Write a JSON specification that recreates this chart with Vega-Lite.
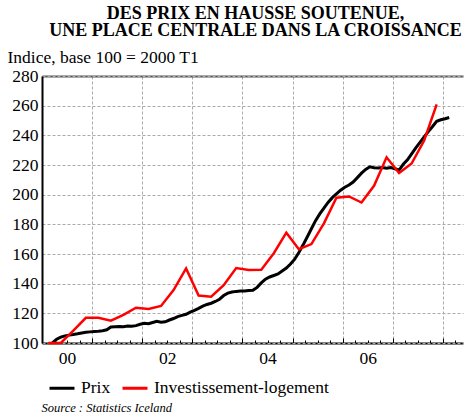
{
  "$schema": "https://vega.github.io/schema/vega-lite/v6.json",
  "autosize": "none",
  "width": 421,
  "height": 267,
  "padding": {"left": 42, "top": 76, "right": 1, "bottom": 71},
  "config": {
    "view": {"stroke": null},
    "font": "Liberation Serif"
  },
  "title": {
    "text": ["DES PRIX EN HAUSSE SOUTENUE,\u00a0\u00a0\u00a0\u00a0", "UNE PLACE CENTRALE DANS LA CROISSANCE"],
    "font": "Liberation Serif",
    "fontSize": 18,
    "fontWeight": "bold",
    "color": "#000000",
    "anchor": "middle",
    "frame": "group",
    "lineHeight": 17,
    "dx": 3,
    "offset": 8
  },
  "datasets": {
    "prix": [
      {"t": 2000.208, "v": 100, "s": "Prix"},
      {"t": 2000.292, "v": 102.5, "s": "Prix"},
      {"t": 2000.375, "v": 104, "s": "Prix"},
      {"t": 2000.458, "v": 104.8, "s": "Prix"},
      {"t": 2000.542, "v": 105.3, "s": "Prix"},
      {"t": 2000.625, "v": 105.7, "s": "Prix"},
      {"t": 2000.708, "v": 106.2, "s": "Prix"},
      {"t": 2000.792, "v": 106.8, "s": "Prix"},
      {"t": 2000.875, "v": 107.2, "s": "Prix"},
      {"t": 2000.958, "v": 107.5, "s": "Prix"},
      {"t": 2001.042, "v": 107.8, "s": "Prix"},
      {"t": 2001.125, "v": 108, "s": "Prix"},
      {"t": 2001.208, "v": 108.3, "s": "Prix"},
      {"t": 2001.292, "v": 108.9, "s": "Prix"},
      {"t": 2001.375, "v": 110.8, "s": "Prix"},
      {"t": 2001.458, "v": 111, "s": "Prix"},
      {"t": 2001.542, "v": 111.2, "s": "Prix"},
      {"t": 2001.625, "v": 111, "s": "Prix"},
      {"t": 2001.708, "v": 111.4, "s": "Prix"},
      {"t": 2001.792, "v": 111.3, "s": "Prix"},
      {"t": 2001.875, "v": 111.7, "s": "Prix"},
      {"t": 2001.958, "v": 112.6, "s": "Prix"},
      {"t": 2002.042, "v": 113.3, "s": "Prix"},
      {"t": 2002.125, "v": 113, "s": "Prix"},
      {"t": 2002.208, "v": 113.8, "s": "Prix"},
      {"t": 2002.292, "v": 114.6, "s": "Prix"},
      {"t": 2002.375, "v": 114, "s": "Prix"},
      {"t": 2002.458, "v": 114.3, "s": "Prix"},
      {"t": 2002.542, "v": 115.5, "s": "Prix"},
      {"t": 2002.625, "v": 116.5, "s": "Prix"},
      {"t": 2002.708, "v": 117.8, "s": "Prix"},
      {"t": 2002.792, "v": 118.6, "s": "Prix"},
      {"t": 2002.875, "v": 119.4, "s": "Prix"},
      {"t": 2002.958, "v": 120.8, "s": "Prix"},
      {"t": 2003.042, "v": 122, "s": "Prix"},
      {"t": 2003.125, "v": 123.3, "s": "Prix"},
      {"t": 2003.208, "v": 124.8, "s": "Prix"},
      {"t": 2003.292, "v": 126, "s": "Prix"},
      {"t": 2003.375, "v": 126.8, "s": "Prix"},
      {"t": 2003.458, "v": 128, "s": "Prix"},
      {"t": 2003.542, "v": 129.5, "s": "Prix"},
      {"t": 2003.625, "v": 132, "s": "Prix"},
      {"t": 2003.708, "v": 133.6, "s": "Prix"},
      {"t": 2003.792, "v": 134.4, "s": "Prix"},
      {"t": 2003.875, "v": 134.8, "s": "Prix"},
      {"t": 2003.958, "v": 135, "s": "Prix"},
      {"t": 2004.042, "v": 135, "s": "Prix"},
      {"t": 2004.125, "v": 135.4, "s": "Prix"},
      {"t": 2004.208, "v": 135.5, "s": "Prix"},
      {"t": 2004.292, "v": 137.5, "s": "Prix"},
      {"t": 2004.375, "v": 140.5, "s": "Prix"},
      {"t": 2004.458, "v": 143, "s": "Prix"},
      {"t": 2004.542, "v": 144.5, "s": "Prix"},
      {"t": 2004.625, "v": 145.5, "s": "Prix"},
      {"t": 2004.708, "v": 146.5, "s": "Prix"},
      {"t": 2004.792, "v": 148.5, "s": "Prix"},
      {"t": 2004.875, "v": 150.5, "s": "Prix"},
      {"t": 2004.958, "v": 153.3, "s": "Prix"},
      {"t": 2005.042, "v": 156.5, "s": "Prix"},
      {"t": 2005.125, "v": 161, "s": "Prix"},
      {"t": 2005.208, "v": 166, "s": "Prix"},
      {"t": 2005.292, "v": 171.5, "s": "Prix"},
      {"t": 2005.375, "v": 177, "s": "Prix"},
      {"t": 2005.458, "v": 182.5, "s": "Prix"},
      {"t": 2005.542, "v": 187, "s": "Prix"},
      {"t": 2005.625, "v": 191, "s": "Prix"},
      {"t": 2005.708, "v": 194.8, "s": "Prix"},
      {"t": 2005.792, "v": 198, "s": "Prix"},
      {"t": 2005.875, "v": 200.5, "s": "Prix"},
      {"t": 2005.958, "v": 203, "s": "Prix"},
      {"t": 2006.042, "v": 205, "s": "Prix"},
      {"t": 2006.125, "v": 206.5, "s": "Prix"},
      {"t": 2006.208, "v": 208.5, "s": "Prix"},
      {"t": 2006.292, "v": 211.5, "s": "Prix"},
      {"t": 2006.375, "v": 214.5, "s": "Prix"},
      {"t": 2006.458, "v": 217, "s": "Prix"},
      {"t": 2006.542, "v": 218.8, "s": "Prix"},
      {"t": 2006.625, "v": 218.2, "s": "Prix"},
      {"t": 2006.708, "v": 218, "s": "Prix"},
      {"t": 2006.792, "v": 218.3, "s": "Prix"},
      {"t": 2006.875, "v": 217.8, "s": "Prix"},
      {"t": 2006.958, "v": 218.3, "s": "Prix"},
      {"t": 2007.042, "v": 217.5, "s": "Prix"},
      {"t": 2007.125, "v": 216.6, "s": "Prix"},
      {"t": 2007.208, "v": 220.5, "s": "Prix"},
      {"t": 2007.292, "v": 223.5, "s": "Prix"},
      {"t": 2007.375, "v": 227.5, "s": "Prix"},
      {"t": 2007.458, "v": 231.5, "s": "Prix"},
      {"t": 2007.542, "v": 235.3, "s": "Prix"},
      {"t": 2007.625, "v": 239, "s": "Prix"},
      {"t": 2007.708, "v": 242.5, "s": "Prix"},
      {"t": 2007.792, "v": 246, "s": "Prix"},
      {"t": 2007.875, "v": 249.5, "s": "Prix"},
      {"t": 2007.958, "v": 250.5, "s": "Prix"},
      {"t": 2008.042, "v": 251.2, "s": "Prix"},
      {"t": 2008.125, "v": 252, "s": "Prix"}
    ],
    "invest": [
      {"t": 2000.125, "v": 100, "s": "Investissement-logement"},
      {"t": 2000.375, "v": 100, "s": "Investissement-logement"},
      {"t": 2000.625, "v": 108.3, "s": "Investissement-logement"},
      {"t": 2000.875, "v": 117, "s": "Investissement-logement"},
      {"t": 2001.125, "v": 117, "s": "Investissement-logement"},
      {"t": 2001.375, "v": 115, "s": "Investissement-logement"},
      {"t": 2001.625, "v": 119, "s": "Investissement-logement"},
      {"t": 2001.875, "v": 123.8, "s": "Investissement-logement"},
      {"t": 2002.125, "v": 123, "s": "Investissement-logement"},
      {"t": 2002.375, "v": 125, "s": "Investissement-logement"},
      {"t": 2002.625, "v": 135.7, "s": "Investissement-logement"},
      {"t": 2002.875, "v": 150.3, "s": "Investissement-logement"},
      {"t": 2003.125, "v": 132, "s": "Investissement-logement"},
      {"t": 2003.375, "v": 131.2, "s": "Investissement-logement"},
      {"t": 2003.625, "v": 139, "s": "Investissement-logement"},
      {"t": 2003.875, "v": 150.5, "s": "Investissement-logement"},
      {"t": 2004.125, "v": 149.2, "s": "Investissement-logement"},
      {"t": 2004.375, "v": 149.4, "s": "Investissement-logement"},
      {"t": 2004.625, "v": 160.5, "s": "Investissement-logement"},
      {"t": 2004.875, "v": 174.4, "s": "Investissement-logement"},
      {"t": 2005.125, "v": 163.2, "s": "Investissement-logement"},
      {"t": 2005.375, "v": 166.7, "s": "Investissement-logement"},
      {"t": 2005.625, "v": 180.7, "s": "Investissement-logement"},
      {"t": 2005.875, "v": 198, "s": "Investissement-logement"},
      {"t": 2006.125, "v": 198.8, "s": "Investissement-logement"},
      {"t": 2006.375, "v": 194.7, "s": "Investissement-logement"},
      {"t": 2006.625, "v": 206, "s": "Investissement-logement"},
      {"t": 2006.875, "v": 225.2, "s": "Investissement-logement"},
      {"t": 2007.125, "v": 214.6, "s": "Investissement-logement"},
      {"t": 2007.375, "v": 221, "s": "Investissement-logement"},
      {"t": 2007.625, "v": 236.5, "s": "Investissement-logement"},
      {"t": 2007.875, "v": 260.9, "s": "Investissement-logement"}
    ]
  },
  "encoding": {
    "y": {
      "field": "v",
      "type": "quantitative",
      "title": "Indice, base 100 = 2000 T1",
      "scale": {"domain": [100, 280], "nice": false, "zero": false},
      "axis": {
        "values": [100, 120, 140, 160, 180, 200, 220, 240, 260, 280],
        "labelOverlap": false,
        "labelFont": "Liberation Serif",
        "labelFontSize": 17.5,
        "labelColor": "#000000",
        "labelPadding": 425,
        "tickSize": -421,
        "tickColor": "#aaaaaa",
        "tickDash": [3, 2],
        "tickWidth": 1,
        "domainColor": "#000000",
        "domainWidth": 2,
        "grid": false,
        "titleFont": "Liberation Serif",
        "titleFontSize": 17.5,
        "titleFontWeight": "normal",
        "titleColor": "#000000",
        "titleAngle": 0,
        "titleX": -35,
        "titleY": -14,
        "titleAlign": "left",
        "titleBaseline": "alphabetic",
        "titleAnchor": "start"
      }
    },
    "color": {
      "field": "s",
      "type": "nominal",
      "scale": {"domain": ["Prix", "Investissement-logement"], "range": ["#000000", "#ff0000"]},
      "legend": {
        "title": null,
        "orient": "none",
        "legendX": 6,
        "legendY": 298,
        "direction": "horizontal",
        "symbolType": "stroke",
        "symbolSize": 625,
        "symbolStrokeWidth": 3,
        "labelFont": "Liberation Serif",
        "labelFontSize": 17.5,
        "labelColor": "#000000",
        "labelLimit": 0,
        "labelOffset": 5,
        "columnPadding": 5,
        "padding": 0
      }
    }
  },
  "resolve": {"axis": {"x": "independent"}},
  "layer": [
    {
      "data": {"name": "prix"},
      "mark": {"type": "line", "strokeWidth": 3},
      "encoding": {
        "x": {
          "field": "t",
          "type": "quantitative",
          "scale": {"domain": [2000, 2008.4], "nice": false, "zero": false},
          "axis": {
            "values": [2000, 2000.25, 2000.5, 2000.75, 2001, 2001.25, 2001.5, 2001.75, 2002, 2002.25, 2002.5, 2002.75, 2003, 2003.25, 2003.5, 2003.75, 2004, 2004.25, 2004.5, 2004.75, 2005, 2005.25, 2005.5, 2005.75, 2006, 2006.25, 2006.5, 2006.75, 2007, 2007.25, 2007.5, 2007.75, 2008, 2008.25],
            "labelExpr": "datum.value % 2 == 0 && datum.value < 2008 ? format(datum.value % 100, '02d') : ''",
            "labelOffset": 25,
            "labelAlign": "center",
            "labelOverlap": false,
            "labelFont": "Liberation Serif",
            "labelFontSize": 17.5,
            "labelColor": "#000000",
            "labelPadding": 11,
            "tickSize": {"condition": {"test": "datum.value % 1 == 0", "value": -5}, "value": -3},
            "tickColor": "#000000",
            "tickWidth": 1,
            "domainColor": "#000000",
            "domainWidth": 2,
            "grid": true,
            "gridColor": "#aaaaaa",
            "gridOpacity": {"condition": {"test": "datum.value % 1 == 0", "value": 1}, "value": 0},
            "gridDash": [3, 2],
            "gridWidth": 1,
            "title": "Source : Statistics Iceland",
            "titleFont": "Liberation Serif",
            "titleFontSize": 12.5,
            "titleFontStyle": "italic",
            "titleFontWeight": "normal",
            "titleColor": "#000000",
            "titleX": -1,
            "titleY": 68,
            "titleAlign": "left",
            "titleBaseline": "alphabetic",
            "titleAnchor": "start"
          }
        }
      }
    },
    {
      "data": {"name": "invest"},
      "mark": {"type": "line", "strokeWidth": 2.5},
      "encoding": {
        "x": {
          "field": "t",
          "type": "quantitative",
          "scale": {"domain": [2000, 2008.4], "nice": false, "zero": false},
          "axis": {
            "orient": "top",
            "labels": false,
            "ticks": false,
            "grid": false,
            "domain": true,
            "domainColor": "#555555",
            "domainWidth": 2,
            "title": null
          }
        }
      }
    }
  ]
}
